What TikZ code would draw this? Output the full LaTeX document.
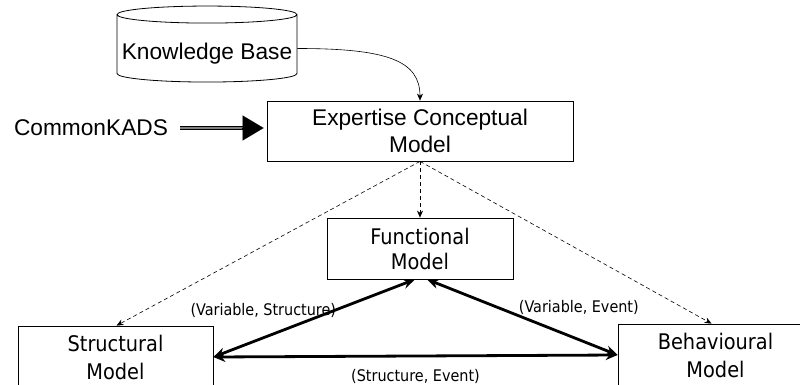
\documentclass[tikz,border=0pt]{standalone}
\usepackage{fontspec}
\setmainfont{Liberation Sans}
\newfontfamily\tahoma{DejaVu Sans Condensed}
\usetikzlibrary{positioning,arrows.meta,shapes.geometric}

\begin{document}
\begin{tikzpicture}[x=1pt, y=-1pt,
  model/.style={draw, line width=0.8pt, align=center, inner sep=0pt,
    font=\tahoma\fontsize{21.5}{28}\selectfont},
  ecmbox/.style={draw, line width=0.8pt, align=center, inner sep=0pt,
    font=\fontsize{22.7}{27}\selectfont},
  kbase/.style={cylinder, shape border rotate=90, draw, line width=0.8pt,
    aspect=0.1, minimum width=180pt, minimum height=76pt, inner sep=0pt,
    text height=28pt, text depth=5pt, font=\fontsize{22.7}{27}\selectfont},
  flow/.style={dashed, dash pattern=on 4pt off 3pt, line width=0.6pt,
    -{Stealth[length=7pt,width=6pt]}},
  rel/.style={line width=2.8pt, {Stealth[length=12pt,width=10pt]}-{Stealth[length=12pt,width=10pt]}},
  lbl/.style={font=\tahoma\fontsize{16}{19}\selectfont, inner sep=1pt}]
\useasboundingbox (0,0) rectangle (800,385);

\node[kbase] (kb) at (207,48.5) {Knowledge Base};
\node[ecmbox, minimum width=306pt, minimum height=60pt] (ecm) at (420,131) {Expertise Conceptual\\Model};
\node[font=\fontsize{22.7}{27}\selectfont, inner sep=0pt] (ck) at (91,128) {CommonKADS};

\node[model, minimum width=186pt, minimum height=61pt,
  font=\tahoma\fontsize{21.5}{25}\selectfont] (func) at (420,248.5) {Functional\\Model};
\node[model, minimum width=195pt, minimum height=62pt] (struct) at (115.5,357) {Structural\\Model};
\node[model, minimum width=195pt, minimum height=62pt] (behav) at (715.5,355) {Behavioural\\Model};

% knowledge base into the expertise model
\draw[line width=0.6pt, -{Stealth[length=7pt,width=6pt]}] (kb.east)
  .. controls +(90,0) and +(0,-40) .. (ecm.north);

% CommonKADS as the method
\draw[double=gray, double distance=1.6pt, line width=1.2pt, shorten <=12pt, shorten >=22pt]
  (ck.east) -- (ck.east -| ecm.west);
\draw[line width=0.1pt, -{Triangle[length=21pt,width=25pt]}, shorten >=3pt]
  ([xshift=-25pt]ck.east -| ecm.west) -- (ck.east -| ecm.west);

% derived models
\draw[flow] (ecm.south) -- (func.north);
\draw[flow] (ecm.south) -- ([xshift=1pt]struct.north);
\draw[flow] (ecm.south) -- ([xshift=-4pt]behav.north);

% relations between the models
\draw[rel] ([xshift=-5pt]func.south) -- (struct.east)
  node[lbl, pos=0.38, anchor=east, yshift=-2pt] {(Variable, Structure)};
\draw[rel] ([xshift=7pt]func.south) -- (behav.west)
  node[lbl, pos=0.47, anchor=south west, yshift=-2pt] {(Variable, Event)};
\draw[rel] (struct.east) -- (behav.west)
  node[lbl, midway, below=11pt] {(Structure, Event)};

\end{tikzpicture}
\end{document}
